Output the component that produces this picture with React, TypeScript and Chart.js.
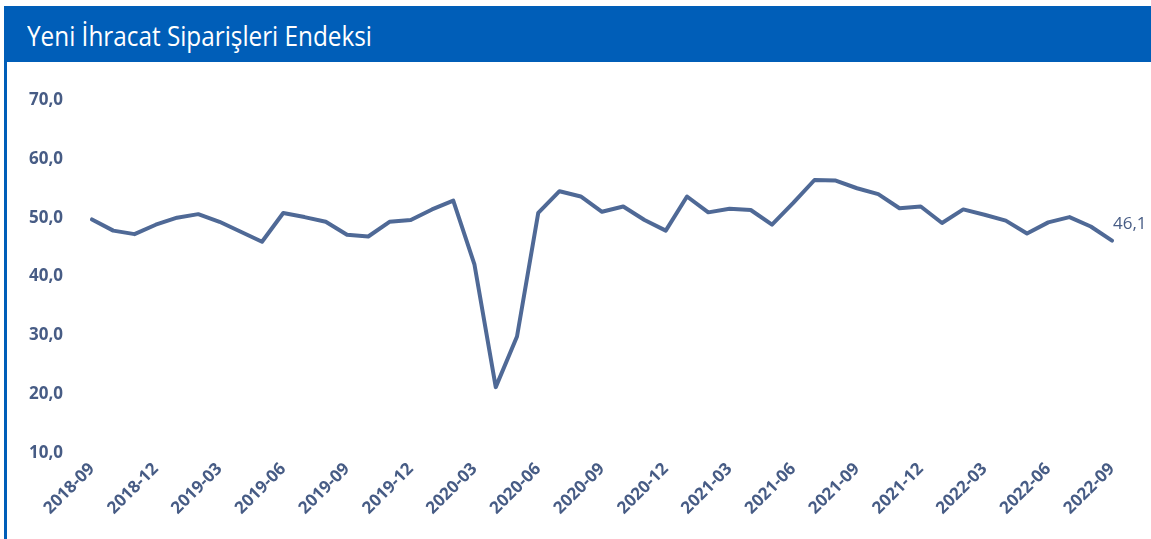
import React, { useEffect, useRef } from "react";
import { Chart, registerables } from "chart.js";

Chart.register(...registerables);

const TITLE = "Yeni İhracat Siparişleri Endeksi";

const MONTHS = [
  "2018-09", "2018-10", "2018-11", "2018-12", "2019-01", "2019-02", "2019-03",
  "2019-04", "2019-05", "2019-06", "2019-07", "2019-08", "2019-09", "2019-10",
  "2019-11", "2019-12", "2020-01", "2020-02", "2020-03", "2020-04", "2020-05",
  "2020-06", "2020-07", "2020-08", "2020-09", "2020-10", "2020-11", "2020-12",
  "2021-01", "2021-02", "2021-03", "2021-04", "2021-05", "2021-06", "2021-07",
  "2021-08", "2021-09", "2021-10", "2021-11", "2021-12", "2022-01", "2022-02",
  "2022-03", "2022-04", "2022-05", "2022-06", "2022-07", "2022-08", "2022-09",
];

const VALUES = [
  49.7, 47.8, 47.2, 48.8, 50.0, 50.6, 49.3,
  47.6, 45.9, 50.8, 50.1, 49.3, 47.1, 46.8,
  49.3, 49.6, 51.4, 52.9, 42.0, 21.2, 29.8,
  50.8, 54.5, 53.6, 51.0, 51.9, 49.6, 47.8,
  53.6, 50.9, 51.5, 51.3, 48.8, 52.5, 56.4,
  56.3, 55.0, 54.0, 51.6, 51.9, 49.1, 51.4,
  50.5, 49.5, 47.3, 49.2, 50.1, 48.5, 46.1,
];

const Y_MIN = 10;
const Y_MAX = 70;
const Y_STEP = 10;
const LABEL_EVERY = 3;

const BLUE = "#005EB8";
const LINE_COLOR = "#4F6996";
const TEXT_COLOR = "#475C85";
const FONT = "'Open Sans', 'Noto Sans', sans-serif";

const fmt = (v: number) => v.toFixed(1).replace(".", ",");

export default function App() {
  const canvasRef = useRef<HTMLCanvasElement>(null);
  const titleRef = useRef<HTMLSpanElement>(null);

  useEffect(() => {
    const t = titleRef.current;
    if (t) {
      t.style.transform = "none";
      const w = t.getBoundingClientRect().width;
      if (w > 0) t.style.transform = `scaleX(${345 / w})`;
    }
    const canvas = canvasRef.current;
    if (!canvas) return;

    const endLabel = {
      id: "endLabel",
      afterDatasetsDraw(chart: any) {
        const meta = chart.getDatasetMeta(0);
        const last = meta.data[meta.data.length - 1];
        if (!last) return;
        const ctx = chart.ctx;
        ctx.save();
        ctx.font = `17px ${FONT}`;
        ctx.fillStyle = TEXT_COLOR;
        ctx.textAlign = "left";
        ctx.textBaseline = "middle";
        ctx.fillText(fmt(VALUES[VALUES.length - 1]), last.x + 1, last.y - 16.5);
        ctx.restore();
      },
    };

    const chart = new Chart(canvas, {
      type: "line",
      data: {
        labels: MONTHS,
        datasets: [
          {
            data: VALUES,
            borderColor: LINE_COLOR,
            borderWidth: 4,
            pointRadius: 0,
            tension: 0,
            fill: false,
            borderJoinStyle: "round",
            borderCapStyle: "round",
          },
        ],
      },
      options: {
        animation: false,
        responsive: false,
        layout: { padding: { left: 0, right: 39, top: 100, bottom: 0 } },
        plugins: { legend: { display: false }, tooltip: { enabled: false } },
        scales: {
          x: {
            offset: false,
            grid: { display: false, drawTicks: false },
            border: { display: false },
            ticks: {
              autoSkip: false,
              maxRotation: 45,
              minRotation: 45,
              padding: 6,
              color: TEXT_COLOR,
              font: { family: FONT, size: 17, weight: "bold" },
              callback: (_v: any, i: number) => (i % LABEL_EVERY === 0 ? MONTHS[i] : ""),
            },
            afterFit: (s: any) => {
              s.height = 86;
            },
          },
          y: {
            min: Y_MIN,
            max: Y_MAX,
            grid: { display: false, drawTicks: false },
            border: { display: false },
            ticks: {
              stepSize: Y_STEP,
              padding: 29,
              color: TEXT_COLOR,
              font: { family: FONT, size: 17, weight: "bold" },
              callback: (v: any) => fmt(Number(v)),
            },
            afterFit: (s: any) => {
              s.width = 92;
            },
          },
        },
      } as any,
      plugins: [endLabel],
    });
    return () => chart.destroy();
  }, []);

  return (
    <div style={{ position: "absolute", left: 0, top: 0, width: 1151, height: 539, background: "#fff", overflow: "hidden" }}>
      <canvas
        ref={canvasRef}
        width={1151}
        height={539}
        style={{ position: "absolute", left: 0, top: 0, display: "block" }}
      />
      <div style={{ position: "absolute", left: 5, top: 6, width: 1146, height: 56, background: BLUE }} />
      <div style={{ position: "absolute", left: 4, top: 6, width: 3, height: 533, background: BLUE }} />
      <span
        ref={titleRef}
        style={{
          position: "absolute",
          left: 27,
          top: 22,
          display: "inline-block",
          whiteSpace: "nowrap",
          color: "#fff",
          fontFamily: FONT,
          fontSize: 27,
          lineHeight: "27px",
          transformOrigin: "left center",
        }}
      >
        {TITLE}
      </span>
    </div>
  );
}
